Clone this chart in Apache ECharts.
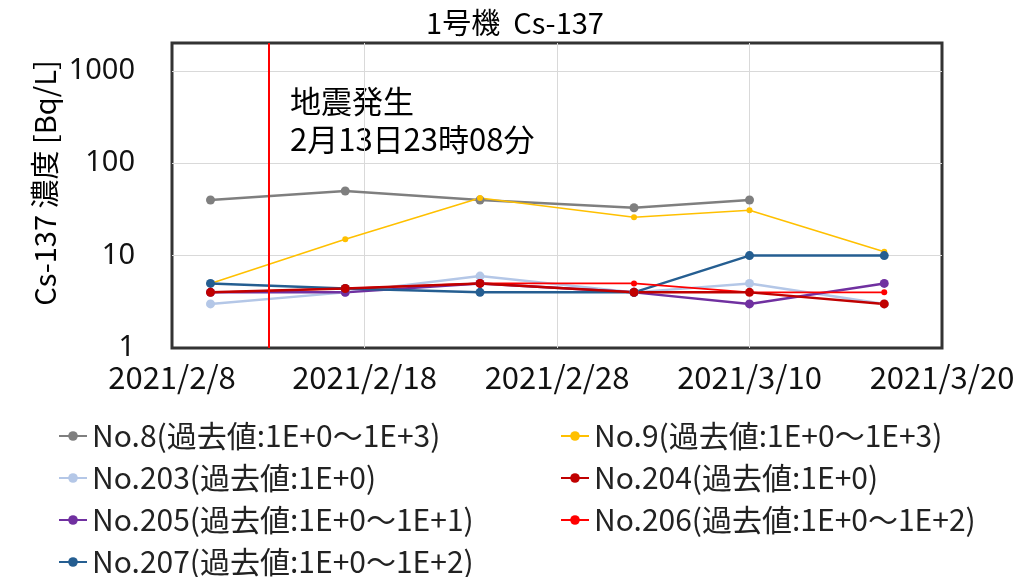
<!DOCTYPE html>
<html>
<head>
<meta charset="utf-8">
<script src="https://cdn.jsdelivr.net/npm/echarts@6/dist/echarts.min.js"></script>
<style>
  html, body { margin: 0; padding: 0; background: #fff; }
  #main { width: 1030px; height: 577px; }
</style>
</head>
<body>
<div id="main"></div>
<script>
// sampling dates and measured values (Bq/L)
const dates = ['2021/2/10', '2021/2/17', '2021/2/24', '2021/3/4', '2021/3/10', '2021/3/17'];
const no8   = [40, 50, 40, 33, 40];
const no9   = [5, 15, 42, 26, 31, 11];
const no203 = [3, 4, 6, 4, 5, 3];
const no204 = [4, 4.4, 5, 4, 4, 3];
const no205 = [4, 4, 5, 4, 3, 5];
const no206 = [4, 4.4, 5, 5, 4, 4];
const no207 = [5, 4.4, 4, 4, 10, 10];
const xStart = '2021/2/8';
const xEnd = '2021/3/20';
const quakeDate = '2021/2/13';
const yTicks = [1, 10, 100, 1000];

const DAY = 86400000;
function toUTC(s) {
  const p = s.split('/').map(Number);
  return Date.UTC(p[0], p[1] - 1, p[2]);
}
const origin = toUTC(xStart);
function dayOf(s) { return (toUTC(s) - origin) / DAY; }
function pairs(vals) { return vals.map((v, i) => [dayOf(dates[i]), v]); }

const latin = "'Liberation Sans Narrow', 'Noto Sans CJK JP'";
const cjk = "'Noto Sans CJK JP'";

const seriesDefs = [
  { name: 'No.8(過去値:1E+0〜1E+3)',  data: no8,   color: '#7f7f7f', big: true },
  { name: 'No.9(過去値:1E+0〜1E+3)',  data: no9,   color: '#ffc000', big: false },
  { name: 'No.203(過去値:1E+0)',       data: no203, color: '#b4c7e7', big: true },
  { name: 'No.205(過去値:1E+0〜1E+1)', data: no205, color: '#7030a0', big: true },
  { name: 'No.207(過去値:1E+0〜1E+2)', data: no207, color: '#255e91', big: true },
  { name: 'No.206(過去値:1E+0〜1E+2)', data: no206, color: '#ff0000', big: false },
  { name: 'No.204(過去値:1E+0)',       data: no204, color: '#c00000', big: true }
];

const series = seriesDefs.map(d => ({
  name: d.name,
  type: 'line',
  data: pairs(d.data),
  symbol: 'circle',
  symbolSize: d.big ? 9 : 6,
  itemStyle: { color: d.color },
  lineStyle: { color: d.color, width: d.big ? 2.5 : 1.6 },
  emphasis: { disabled: true }
}));
series[0].markLine = {
  silent: true,
  symbol: 'none',
  label: { show: false },
  lineStyle: { color: '#ff0000', width: 2, type: 'solid' },
  data: [{ xAxis: dayOf(quakeDate) }]
};

const legendText = { fontFamily: latin, fontSize: 30, color: '#222' };
const gridLine = { show: true, showMinLine: false, showMaxLine: false, lineStyle: { color: '#d9d9d9', width: 1 } };

const chart = echarts.init(document.getElementById('main'));
chart.setOption({
  animation: false,
  title: {
    text: '1号機  Cs-137',
    left: 'center',
    top: 3,
    textStyle: { fontFamily: cjk, fontSize: 29, fontWeight: 'normal', color: '#000' }
  },
  grid: {
    left: 172, right: 88, top: 43, bottom: 229,
    show: true, borderColor: '#333', borderWidth: 3
  },
  xAxis: {
    type: 'value',
    min: 0,
    max: dayOf(xEnd),
    interval: 10,
    axisLine: { show: false },
    axisTick: { show: false },
    splitLine: gridLine,
    axisLabel: {
      margin: 14,
      fontFamily: latin,
      fontSize: 31,
      color: '#111',
      formatter: v => {
        const d = new Date(origin + v * DAY);
        return d.getUTCFullYear() + '/' + (d.getUTCMonth() + 1) + '/' + d.getUTCDate();
      }
    }
  },
  yAxis: {
    type: 'log',
    logBase: 10,
    min: 1,
    max: 2000,
    axisLine: { show: false },
    axisTick: { show: false },
    splitLine: gridLine,
    axisLabel: {
      margin: 37,
      fontFamily: "'Noto Sans'",
      fontSize: 29,
      color: '#111',
      formatter: v => {
        const hit = yTicks.find(t => Math.abs(t - v) < 1e-6 * t);
        return hit ? String(hit) : '';
      }
    }
  },
  legend: [
    {
      orient: 'vertical',
      left: 58, top: 421, height: 180, padding: 0,
      itemWidth: 28, itemHeight: 12, itemGap: 12,
      textStyle: legendText,
      data: [seriesDefs[0].name, seriesDefs[2].name, seriesDefs[3].name, seriesDefs[4].name]
    },
    {
      orient: 'vertical',
      left: 560, top: 421, height: 180, padding: 0,
      itemWidth: 28, itemHeight: 12, itemGap: 12,
      textStyle: legendText,
      data: [seriesDefs[1].name, seriesDefs[6].name, seriesDefs[5].name]
    }
  ],
  graphic: [
    {
      type: 'text',
      left: 290, top: 82,
      style: {
        text: '地震発生\n2月13日23時08分',
        font: '31px "Noto Sans CJK JP"',
        lineHeight: 38,
        fill: '#000'
      }
    },
    {
      type: 'text',
      x: 45, y: 183,
      rotation: Math.PI / 2,
      style: {
        text: 'Cs-137 濃度 [Bq/L]',
        font: '29px "Noto Sans CJK JP"',
        align: 'center',
        verticalAlign: 'middle',
        fill: '#000'
      }
    }
  ],
  series: series
});
</script>
</body>
</html>
